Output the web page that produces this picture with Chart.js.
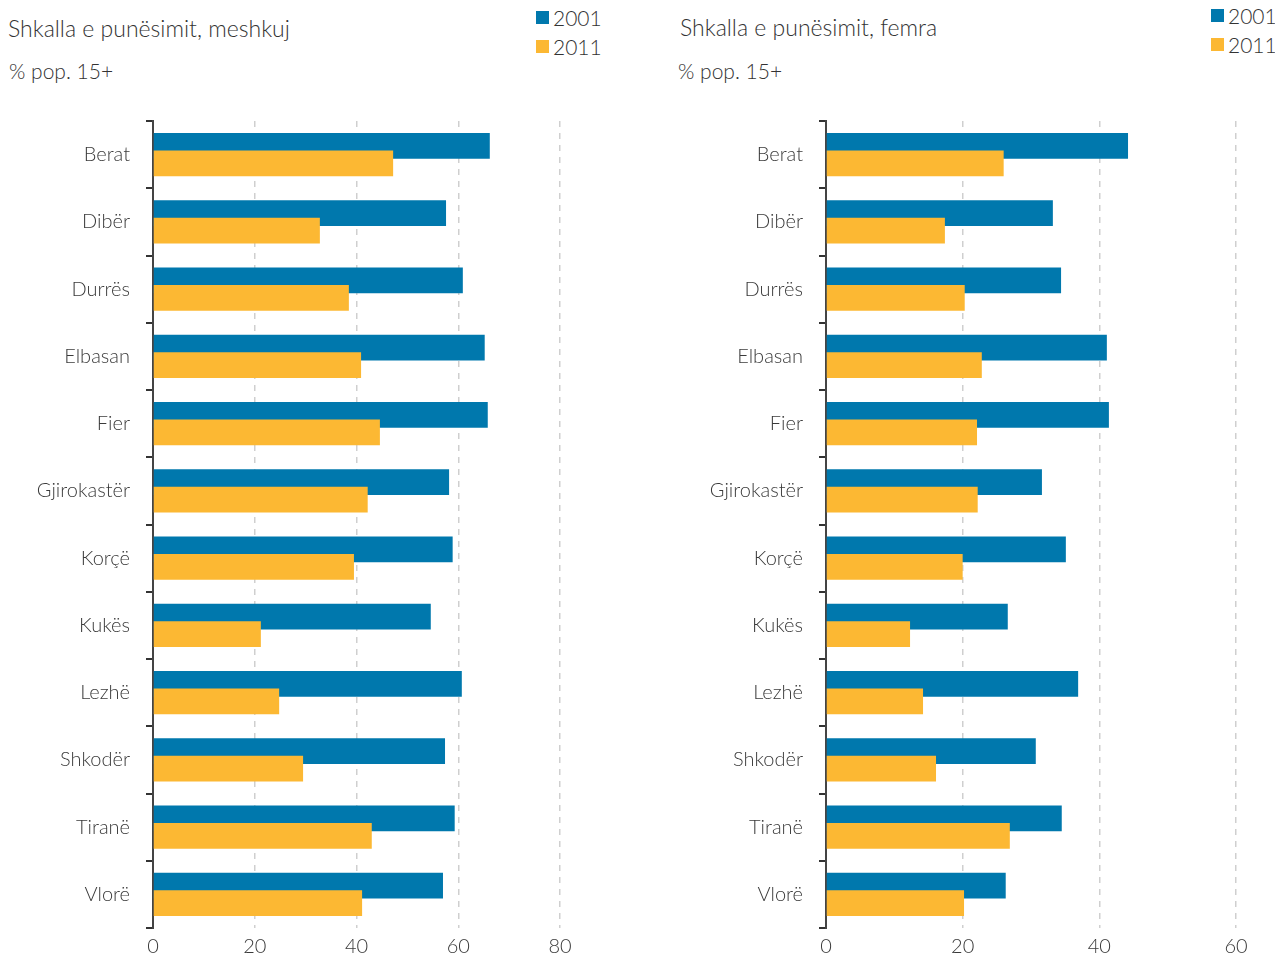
<!DOCTYPE html>
<html>
<head>
<meta charset="utf-8">
<script src="https://cdn.jsdelivr.net/npm/chart.js@4/dist/chart.umd.min.js"></script>
<style>
  body { margin: 0; width: 1275px; height: 956px; background: #fff; position: relative; overflow: hidden;
         font-family: Lato, "Open Sans", sans-serif; font-weight: 300; color: #333; }
  .t { position: absolute; white-space: nowrap; }
  .title { font-size: 23px; }
  .sub { font-size: 21px; }
  .leg { font-size: 21px; display: flex; align-items: center; }
  .leg i { display: inline-block; width: 13px; height: 13px; margin-right: 4px; }
  canvas { position: absolute; top: 93px; }
</style>
</head>
<body>
<div class="t title" style="left:8px;top:14px">Shkalla e punësimit, meshkuj</div>
<div class="t sub" style="left:9px;top:58px">% pop. 15+</div>
<div class="t leg" style="left:536px;top:5px"><i style="background:#0078ad"></i>2001</div>
<div class="t leg" style="left:536px;top:34px"><i style="background:#fcb833"></i>2011</div>

<div class="t title" style="left:680px;top:13px">Shkalla e punësimit, femra</div>
<div class="t sub" style="left:678px;top:58px">% pop. 15+</div>
<div class="t leg" style="left:1211px;top:3px"><i style="background:#0078ad"></i>2001</div>
<div class="t leg" style="left:1211px;top:32px"><i style="background:#fcb833"></i>2011</div>

<canvas id="men" width="600" height="863" style="left:0px"></canvas>
<canvas id="women" width="635" height="863" style="left:640px"></canvas>

<script>
const regions = ['Berat', 'Dibër', 'Durrës', 'Elbasan', 'Fier', 'Gjirokastër', 'Korçë', 'Kukës', 'Lezhë', 'Shkodër', 'Tiranë', 'Vlorë'];
const years = ['2001', '2011'];

const men2001 = [66.2, 57.6, 60.9, 65.2, 65.8, 58.2, 58.9, 54.6, 60.7, 57.4, 59.3, 57.0];
const men2011 = [47.2, 32.8, 38.5, 40.9, 44.6, 42.2, 39.5, 21.2, 24.8, 29.5, 43.0, 41.1];
const women2001 = [44.2, 33.2, 34.4, 41.1, 41.4, 31.6, 35.1, 26.6, 36.9, 30.7, 34.5, 26.3];
const women2011 = [26.0, 17.4, 20.3, 22.8, 22.1, 22.2, 20.0, 12.3, 14.2, 16.1, 26.9, 20.2];

const menTicks = [0, 20, 40, 60, 80];
const womenTicks = [0, 20, 40, 60];

const blue = '#0078ad';
const yellow = '#fcb833';
const textColor = '#3a3a3a';
const fontFamily = 'Lato, "Open Sans", sans-serif';

// the two years share a row, the later one slightly lower and drawn on top
const shift = 0.13;

function points(values, dy) {
  return values.map((v, i) => ({ x: v, y: i + dy }));
}

function makeChart(id, v2001, v2011, xTicks, axisWidth, rightPad) {
  const ctx = document.getElementById(id);
  return new Chart(ctx, {
    type: 'bar',
    data: {
      datasets: [
        { label: years[1], data: points(v2011, shift), backgroundColor: yellow, order: 0 },
        { label: years[0], data: points(v2001, -shift), backgroundColor: blue, order: 1 }
      ]
    },
    options: {
      indexAxis: 'y',
      responsive: false,
      animation: false,
      grouped: false,
      categoryPercentage: 1,
      barPercentage: 1.46,
      layout: { padding: { top: 10, right: rightPad, bottom: 0, left: 0 } },
      plugins: { legend: { display: false }, tooltip: { enabled: false } },
      scales: {
        x: {
          type: 'linear',
          min: xTicks[0],
          max: xTicks[xTicks.length - 1],
          afterBuildTicks: s => { s.ticks = xTicks.map(v => ({ value: v })); },
          afterFit: s => { s.height = 28; },
          border: { display: false, dash: [6, 6] },
          grid: {
            drawTicks: false,
            lineWidth: 1.5,
            color: c => (c.tick && c.tick.value === 0) ? 'rgba(0,0,0,0)' : '#cfcfcf'
          },
          ticks: { padding: 7, color: textColor, font: { family: fontFamily, size: 20, weight: 300 } }
        },
        y: {
          type: 'linear',
          reverse: true,
          offset: false,
          min: -0.5,
          max: regions.length - 0.5,
          afterBuildTicks: s => {
            const t = [];
            for (let i = 0; i <= regions.length * 2; i++) t.push({ value: i / 2 - 0.5 });
            s.ticks = t;
          },
          afterFit: s => { s.width = axisWidth; },
          border: { display: true, color: '#444', width: 2 },
          grid: {
            offset: false,
            drawOnChartArea: false,
            drawTicks: true,
            tickLength: 7,
            lineWidth: 2,
            color: c => (c.tick && Number.isInteger(c.tick.value)) ? 'rgba(0,0,0,0)' : '#333'
          },
          ticks: {
            autoSkip: false,
            padding: 16,
            color: textColor,
            font: { family: fontFamily, size: 20, weight: 300 },
            callback: v => Number.isInteger(v) ? regions[v] : ''
          }
        }
      }
    }
  });
}

makeChart('men', men2001, men2011, menTicks, 153, 40);
makeChart('women', women2001, women2011, womenTicks, 186, 39);
</script>
</body>
</html>
